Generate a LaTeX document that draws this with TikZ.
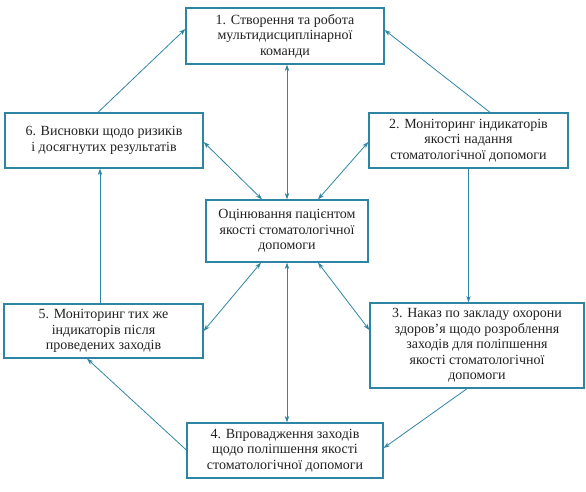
\documentclass[tikz,border=0pt]{standalone}
\usepackage{fontspec}
\setmainfont{Liberation Serif}
\usetikzlibrary{arrows.meta,calc}
\definecolor{teal1}{HTML}{2E85A3}
\definecolor{txt}{HTML}{222222}
\begin{document}
\begin{tikzpicture}[x=1pt,y=-1pt,
  box/.style={draw=teal1,line width=1.3pt,fill=white,align=center,inner sep=2pt,
    font=\fontsize{14}{15.5}\selectfont,text=txt},
  conn/.style={draw=teal1,line width=0.8pt,-{Stealth[length=6.5pt,width=4.5pt]}},
  bconn/.style={draw=teal1,line width=0.8pt,{Stealth[length=6.5pt,width=4.5pt]}-{Stealth[length=6.5pt,width=4.5pt]}}]
\useasboundingbox (0,0) rectangle (586,492);
\node[box,minimum width=198pt,minimum height=56pt] (b1) at (285,36)
  {1. Створення та робота\\мультидисциплінарної\\команди};
\node[box,minimum width=198pt,minimum height=55pt] (b6) at (104,140.5)
  {6. Висновки щодо ризиків\\і досягнутих результатів};
\node[box,minimum width=199pt,minimum height=55pt] (b2) at (468.5,140.5)
  {2. Моніторинг індикаторів\\якості надання\\стоматологічної допомоги};
\node[box,minimum width=162pt,minimum height=62pt] (c) at (287,231)
  {Оцінювання пацієнтом\\якості стоматологічної\\допомоги};
\node[box,minimum width=199pt,minimum height=54pt] (b5) at (103.5,331)
  {5. Моніторинг тих же\\індикаторів після\\проведених заходів};
\node[box,minimum width=214pt,minimum height=85pt] (b3) at (477,345.5)
  {3. Наказ по закладу охорони\\здоров'я щодо розроблення\\заходів для поліпшення\\якості стоматологічної\\допомоги};
\node[box,minimum width=196pt,minimum height=55pt] (b4) at (285,450.5)
  {4. Впровадження заходів\\щодо поліпшення якості\\стоматологічної допомоги};
% cycle
\draw[conn] ([xshift=-6pt]b6.north) -- ([yshift=7pt]b1.west);
\draw[conn] ([xshift=21.5pt]b2.north) -- ([yshift=6pt]b1.east);
\draw[conn] (b2.south) -- (b2.south |- b3.north);
\draw[conn] ([xshift=-10pt]b3.south) -- ([yshift=2.5pt]b4.east);
\draw[conn] ([yshift=0.5pt]b4.west) -- ([xshift=-16.5pt]b5.south);
\draw[conn] ([xshift=-4pt]b6.south |- b5.north) -- ([xshift=-4pt]b6.south);
% central
\draw[bconn] (c.north) -- (c.north |- b1.south);
\draw[bconn] ([xshift=-25pt]c.north) -- ([yshift=-1.5pt]b6.east);
\draw[bconn] ([xshift=31pt]c.north) -- ([yshift=-1.5pt]b2.west);
\draw[bconn] ([xshift=-26pt]c.south) -- (b5.east);
\draw[bconn] ([xshift=31pt]c.south) -- ([yshift=15.5pt]b3.west);
\draw[bconn] (c.south) -- (c.south |- b4.north);
\end{tikzpicture}
\end{document}
